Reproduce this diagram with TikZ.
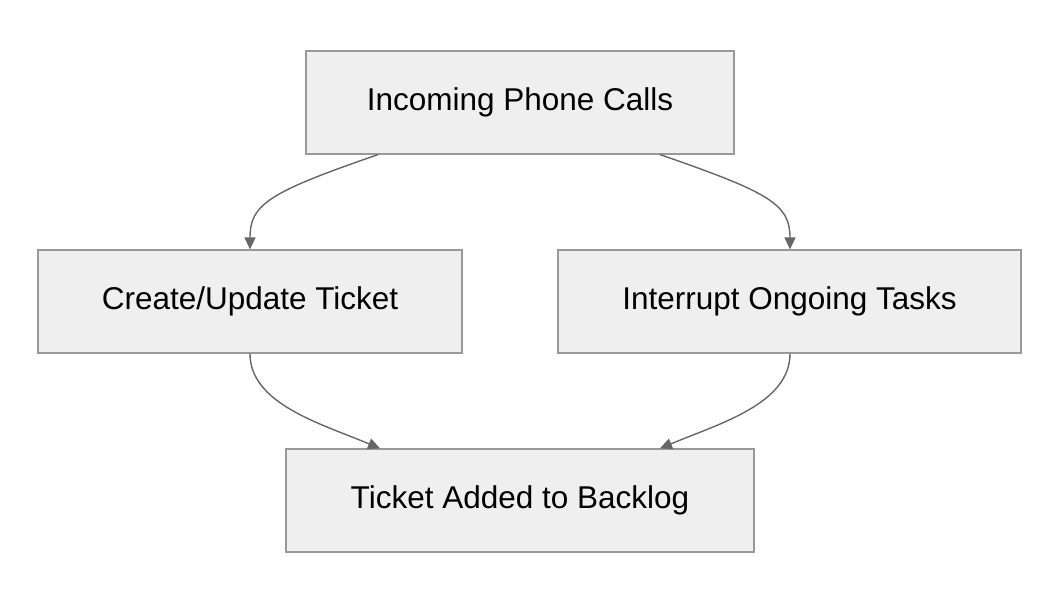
\documentclass[tikz,border=0pt]{standalone}
\usepackage{fontspec}
\setmainfont{Liberation Sans}
\usetikzlibrary{calc,arrows.meta}
\definecolor{boxfill}{HTML}{EFEFEF}
\definecolor{boxline}{HTML}{999999}
\definecolor{arr}{HTML}{666666}
\begin{document}
\begin{tikzpicture}[x=1pt,y=-1pt,
  box/.style={draw=boxline,fill=boxfill,line width=1.2pt,minimum height=103pt,inner sep=0pt,font=\fontsize{31.5}{34}\selectfont},
  conn/.style={draw=arr,line width=1.4pt,-{Triangle[length=12pt,width=11pt]}}]
\useasboundingbox (0,0) rectangle (1060,604);
\node[box,minimum width=428pt] (top) at (520,102.5) {Incoming Phone Calls};
\node[box,minimum width=424pt] (left) at (250,301.5) {Create/Update Ticket};
\node[box,minimum width=463pt] (right) at (789.5,301.5) {Interrupt Ongoing Tasks};
\node[box,minimum width=468pt] (bot) at (520,500.5) {Ticket Added to Backlog};
\draw[conn] ($(top.south)+(-142,0)$) .. controls +(-110,38) and +(0,-45) .. (left.north);
\draw[conn] ($(top.south)+(140,0)$) .. controls +(110,38) and +(0,-45) .. ($(right.north)+(0.5,0)$);
\draw[conn] (left.south) .. controls +(0,50) and +(-60,-25) .. ($(bot.north)+(-140,0)$);
\draw[conn] ($(right.south)+(0.5,0)$) .. controls +(0,50) and +(60,-25) .. ($(bot.north)+(140,0)$);
\end{tikzpicture}
\end{document}
